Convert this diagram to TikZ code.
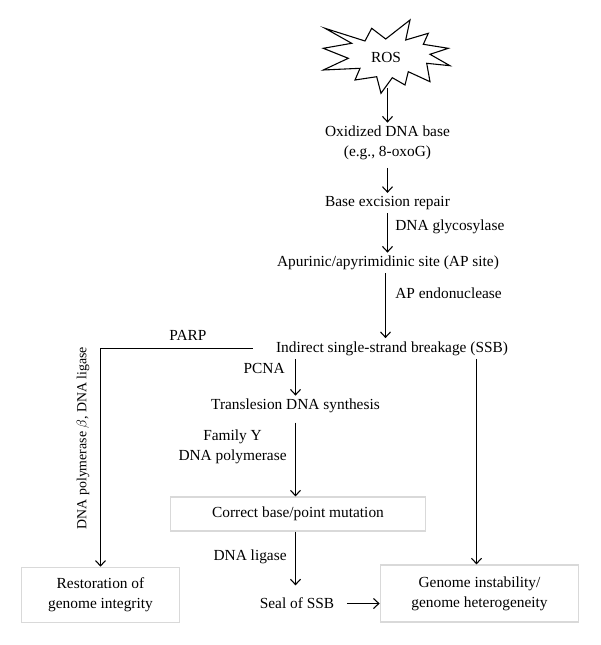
\documentclass[tikz,border=0pt]{standalone}
\usepackage{fontspec}
\setmainfont{Liberation Serif}
\usetikzlibrary{arrows.meta}
\tikzset{
  txt/.style={inner sep=2pt, align=center, font=\fontsize{10}{13}\selectfont},
  box/.style={txt, draw=black!15, line width=0.8pt},
  arr/.style={line width=0.7pt, -{Straight Barb[length=3.5pt,width=6.5pt]}},
}

\begin{document}
\begin{tikzpicture}[x=0.65pt, y=-0.65pt]
		%%%%% START %%%%%
		\useasboundingbox (0,0) rectangle (600,645);
		
		% ROS burst
		\draw[line width=0.7pt, fill=white] (325,28.3) -- (365,41) -- (371.7,28.3) -- (385.7,39)
			-- (410,20) -- (405.7,40) -- (428.3,33.3) -- (423.3,44.3) -- (448.3,48.3)
			-- (430,54.3) -- (450,65.7) -- (426.7,63.3) -- (430,81.7) -- (408.3,71.7)
			-- (405,85) -- (392.3,77.7) -- (381,93.3) -- (376.7,76.7) -- (355,80)
			-- (360,68.3) -- (323.3,70) -- (348.3,58.3) -- (323.3,48.3) -- (351.7,43.3) -- cycle;
		\node[txt] (ros) at (386,57) {ROS};
		\coordinate (rosb) at (387.5,88);
		
		\node[txt] (oxi) at (387.5,143) {Oxidized DNA base\\(e.g., 8-oxoG)};
		\node[txt] (ber) at (387.5,203) {Base excision repair};
		\node[txt] (ap) at (388,263) {Apurinic/apyrimidinic site (AP site)};
		\node[txt] (ssb) at (392,348.5) {Indirect single-strand breakage (SSB)};
		\node[txt] (tls) at (295.5,406) {Translesion DNA synthesis};
		\node[box, minimum width=166pt, minimum height=22pt] (cbm) at (298,514) {Correct base/point mutation};
		\node[txt] (seal) at (297,603.5) {Seal of SSB};
		\node[box, minimum width=129pt, minimum height=37pt] (gen) at (479.5,593.5) {Genome instability/\\genome heterogeneity};
		\node[box, minimum width=103pt, minimum height=36pt] (rest) at (100.5,595) {Restoration of\\genome integrity};
		
		% main column
		\draw[arr] (rosb) -- (rosb |- oxi.north);
		\draw[arr, shorten <=3pt] (oxi.south) -- (ber.north);
		\draw[arr] (ber.south) -- (ber.south |- ap.north);
		\node[txt, anchor=west] (glyc) at (392,227) {DNA glycosylase};
		\coordinate (apx) at (385.5,0);
		\draw[arr] (ap.south -| apx) -- (ssb.north -| apx);
		\node[txt, anchor=west] (apendo) at (392,293) {AP endonuclease};
		
		% translesion branch
		\draw[arr] (tls.north |- ssb.south) -- (tls.north);
		\node[txt, anchor=east] (pcna) at (288,368) {PCNA};
		\draw[arr, shorten <=4pt] (tls.south) -- (tls.south |- cbm.north);
		\node[txt, anchor=east] (famy) at (290,447) {Family Y\\DNA polymerase};
		\draw[arr, shorten >=6pt] (cbm.south -| tls.south) -- (tls.south |- seal.north);
		\node[txt, anchor=east] (lig) at (290,557) {DNA ligase};
		\draw[arr, shorten <=6pt] (seal.east) -- (seal.east -| gen.west);
		
		% PARP branch
		\coordinate (parp0) at ([xshift=-13pt]ssb.west);
		\draw[arr] (parp0) -| (rest.north);
		\node[txt] (parp) at (188,335) {PARP};
		\node[txt, rotate=90, font=\fontsize{9}{11}\selectfont] (polb) at (83,438) {DNA polymerase $\beta$, DNA ligase};
		
		% direct to instability
		\draw[arr] ([xshift=-1.95pt]gen.north |- ssb.south) -- ([xshift=-1.95pt]gen.north);
		
		%%%%% END %%%%%
\end{tikzpicture}
\end{document}
